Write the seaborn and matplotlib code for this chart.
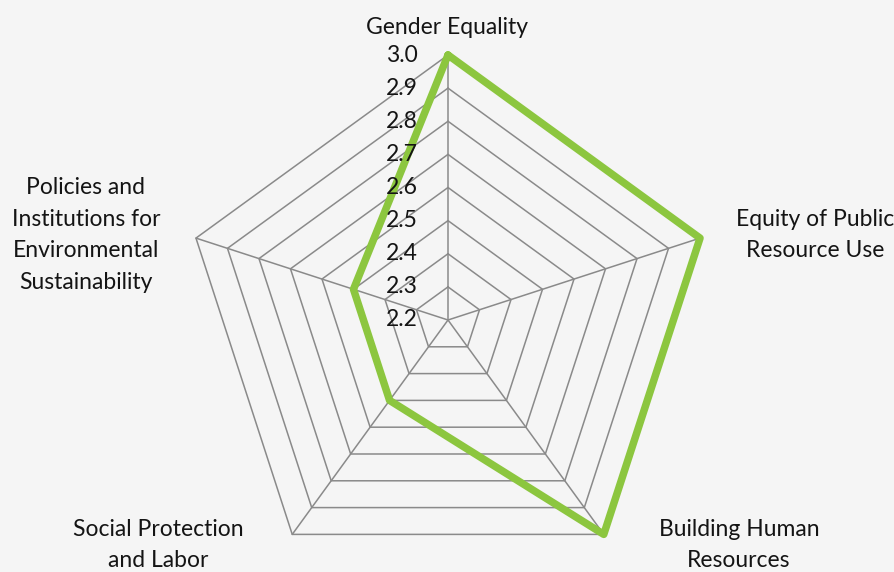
import numpy as np
import pandas as pd
import matplotlib
matplotlib.use("Agg")
import matplotlib.pyplot as plt
import seaborn as sns
from matplotlib.transforms import ScaledTranslation

# ---- data ----
categories = [
    "Gender Equality",
    "Equity of Public\nResource Use",
    "Building Human\nResources",
    "Social Protection\nand Labor",
    "Policies and\nInstitutions for\nEnvironmental\nSustainability",
]
values = [3.0, 3.0, 3.0, 2.5, 2.5]
tick_values = [2.2, 2.3, 2.4, 2.5, 2.6, 2.7, 2.8, 2.9, 3.0]
tick_labels = ["2.2", "2.3", "2.4", "2.5", "2.6", "2.7", "2.8", "2.9", "3.0"]

# ---- style ----
BG = "#f5f5f5"
GRID = "#8a8a8a"
GREEN = "#8cc63f"
TEXT = "#141414"
FS = 16.5

sns.set_theme(style="white")
plt.rcParams["font.family"] = ["Lato", "DejaVu Sans"]

W, H = 895, 572
fig = plt.figure(figsize=(W / 100, H / 100), dpi=100, facecolor=BG)
cx, cy, R = 448, 320, 265
ax = fig.add_axes([(cx - R) / W, (H - cy - R) / H, 2 * R / W, 2 * R / H],
                  projection="polar")
ax.set_facecolor("none")
ax.set_theta_offset(np.pi / 2)
ax.set_theta_direction(-1)
ax.set_ylim(tick_values[0], tick_values[-1])
ax.grid(False)
ax.spines["polar"].set_visible(False)
ax.set_xticks([])
ax.set_yticks([])

n = len(categories)
angles = np.arange(n) * 2 * np.pi / n
closed = np.append(angles, 2 * np.pi)

# polygon rings
for v in tick_values[1:]:
    ax.plot(closed, [v] * (n + 1), color=GRID, lw=1.1, clip_on=False, zorder=1)
# spokes
for a in angles:
    ax.plot([a, a], [tick_values[0], tick_values[-1]], color=GRID, lw=1.1,
            clip_on=False, zorder=1)

df = pd.DataFrame({"angle": closed, "value": values + [values[0]]})
sns.lineplot(data=df, x="angle", y="value", sort=False, estimator=None, ax=ax,
             color=GREEN, lw=5.4, clip_on=False, zorder=3,
             solid_joinstyle="round", solid_capstyle="round")
ax.set_xlabel("")
ax.set_ylabel("")

# radial tick labels
off = ax.transData + ScaledTranslation(-30 / 100, 0, fig.dpi_scale_trans)
for v, lab in zip(tick_values, tick_labels):
    ax.text(0, v, lab, transform=off, ha="right", va="center",
            fontsize=FS, color=TEXT, clip_on=False, zorder=4)

# category labels
label_pos = [(447, 27), (815, 235), (739, 545), (158, 545), (86, 235)]
for lab, (x, y) in zip(categories, label_pos):
    fig.text(x / W, 1 - y / H, lab, ha="center", va="center", fontsize=FS,
             color=TEXT, linespacing=1.62)

fig.savefig("out.png", dpi=100, facecolor=BG)
